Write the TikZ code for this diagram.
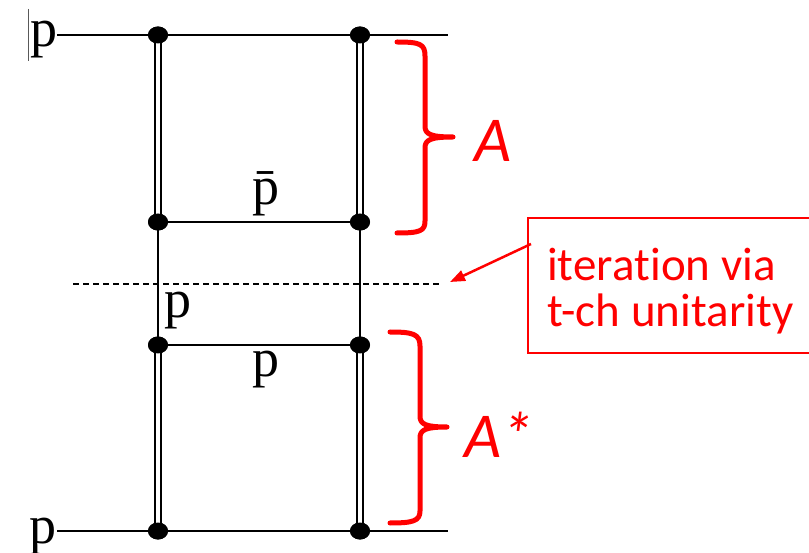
\documentclass[tikz,border=0pt]{standalone}
\usepackage{fontspec}
\setmainfont{Liberation Serif}
\newfontfamily\calibfont[Ligatures={NoCommon,NoDiscretionary}]{Carlito}
\usetikzlibrary{arrows.meta,shapes.geometric}
\definecolor{pred}{RGB}{255,0,0}
\tikzset{
  vtx/.style={ellipse, fill=black, minimum width=20pt, minimum height=17pt, inner sep=0pt},
  dbl/.style={draw=black, line width=2pt, double=white, double distance=3.4pt},
  sgl/.style={draw=black, line width=2pt},
  plabel/.style={anchor=base west, inner sep=0pt, font=\fontsize{54}{60}\selectfont},
  brace/.style={draw=pred, line width=5pt, line cap=round, line join=round},
  redtxt/.style={anchor=base west, inner sep=0pt, text=pred, font=\calibfont\fontsize{47}{50}\selectfont},
  bigA/.style={anchor=base west, inner sep=0pt, text=pred, font=\calibfont\itshape\fontsize{64}{70}\selectfont}
}
\begin{document}
\begin{tikzpicture}[x=1pt,y=-1pt]
\useasboundingbox (0,0) rectangle (809,553);
% vertices
\node[vtx] (t1) at (158,35) {};
\node[vtx] (t2) at (360,35) {};
\node[vtx] (u1) at (158,222) {};
\node[vtx] (u2) at (360,222) {};
\node[vtx] (m1) at (158,345) {};
\node[vtx] (m2) at (360,345) {};
\node[vtx] (b1) at (158,531) {};
\node[vtx] (b2) at (360,531) {};
\coordinate (tl) at (57,35);
\coordinate (tr) at (448,35);
\coordinate (bl) at (57,531);
\coordinate (br) at (448,531);
\coordinate (dl) at (73,284);
\coordinate (dr) at (442,284);
% vertical double lines
\draw[dbl] (t1.center) -- (u1.center);
\draw[dbl] (t2.center) -- (u2.center);
\draw[dbl] (m1.center) -- (b1.center);
\draw[dbl] (m2.center) -- (b2.center);
% vertical single lines
\draw[sgl] (u1.center) -- (m1.center);
\draw[sgl] (u2.center) -- (m2.center);
% horizontal lines
\draw[sgl] (tl) -- (t1.center) -- (t2.center) -- (tr);
\draw[sgl] (bl) -- (b1.center) -- (b2.center) -- (br);
\draw[sgl] (u1.center) -- (u2.center);
\draw[sgl] (m1.center) -- (m2.center);
% redraw vertices on top
\foreach \n in {t1,t2,u1,u2,m1,m2,b1,b2} \fill (\n) ellipse (10pt and 8.5pt);
% dashed cut
\draw[black, line width=1.5pt, dash pattern=on 6pt off 4pt] (dl) -- (dr);
% labels
\draw[gray!70!black, line width=1pt] (28,9) -- (28,61);
\node[plabel] (lp1) at (30,47) {p};
\node[plabel] (lp2) at (29,543) {p};
\node[plabel] (lpb) at (252,205) {\=p};
\node[plabel] (lp3) at (164,318) {p};
\node[plabel] (lp4) at (252,377) {p};
% braces
\draw[brace] (397,42) .. controls (420,42) and (425,44) .. (425,56) -- (425,126)
  .. controls (425,134) and (430,137) .. (453,137)
  .. controls (430,137) and (425,140) .. (425,148) -- (425,221)
  .. controls (425,231) and (420,233) .. (397,233);
\draw[brace] (390,332) .. controls (413,332) and (420,334) .. (420,346) -- (420,416)
  .. controls (420,424) and (425,427) .. (447,427)
  .. controls (425,427) and (420,430) .. (420,438) -- (420,511)
  .. controls (420,521) and (413,523) .. (390,523);
\node[bigA] (A) at (474,162) {A};
\node[bigA] (As) at (464,457) {A*};
% annotation box
\draw[pred, line width=1.5pt] (528,218) rectangle (815,353);
\coordinate (abox) at (531,244);
\coordinate (aend) at (450,282);
\node[redtxt] (t1txt) at (547,281) {itera\kern0pt t\kern0pt ion via};
\node[redtxt] (t2txt) at (547,327) {t-ch uni\kern0pt t\kern0pt ari\kern0pt t\kern0pt y};
\draw[pred, line width=2.5pt, -{Triangle[length=15pt,width=11pt]}] (abox) -- (aend);
\end{tikzpicture}
\end{document}
